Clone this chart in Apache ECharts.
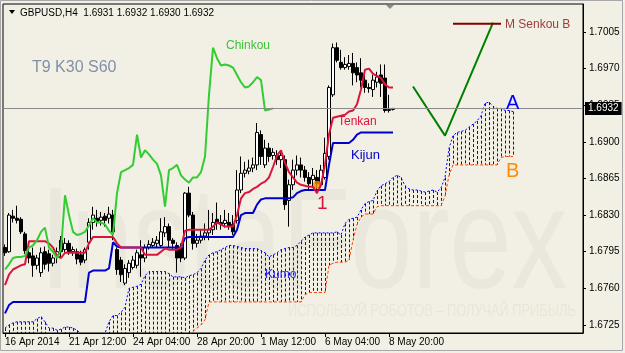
<!DOCTYPE html>
<html>
<head>
<meta charset="utf-8">
<script src="https://cdn.jsdelivr.net/npm/echarts@6/dist/echarts.min.js"></script>
<style>
  html, body { margin: 0; padding: 0; background: #f2f0e4; }
  #chart { width: 625px; height: 353px; }
</style>
</head>
<body>
<div id="chart"></div>
<script>
// bars are H4, one category per bar (the last 30+ are the future the cloud is shifted into)
const barCount = 145;
const categories = Array.from({ length: barCount }, (_, i) => String(i));
const tickLabels = ["16 Apr 2014", "21 Apr 12:00", "24 Apr 04:00", "28 Apr 20:00",
  "1 May 12:00", "6 May 04:00", "8 May 20:00"];
const priceTicks = [1.6725, 1.6760, 1.6795, 1.6830, 1.6865, 1.6900, 1.6935, 1.6970, 1.7005];

// open, close, low, high
const candles = [
  [1.6799, 1.6794, 1.6791, 1.6802], [1.6795, 1.6830, 1.6794, 1.6832], [1.6829, 1.6827, 1.6823, 1.6835],
  [1.6827, 1.6825, 1.6822, 1.6839], [1.6826, 1.6814, 1.6812, 1.6828], [1.6812, 1.6796, 1.6793, 1.6814],
  [1.6794, 1.6789, 1.6784, 1.6797], [1.6791, 1.6782, 1.6771, 1.6799], [1.6782, 1.6789, 1.6778, 1.6792],
  [1.6775, 1.6794, 1.6771, 1.6799], [1.6795, 1.6783, 1.6778, 1.6800], [1.6793, 1.6784, 1.6776, 1.6797],
  [1.6784, 1.6789, 1.6781, 1.6792], [1.6792, 1.6795, 1.6784, 1.6799], [1.6806, 1.6795, 1.6789, 1.6810],
  [1.6797, 1.6803, 1.6794, 1.6808], [1.6803, 1.6795, 1.6792, 1.6806], [1.6795, 1.6797, 1.6791, 1.6800],
  [1.6795, 1.6788, 1.6783, 1.6798], [1.6792, 1.6785, 1.6782, 1.6796], [1.6787, 1.6797, 1.6784, 1.6799],
  [1.6804, 1.6823, 1.6797, 1.6827], [1.6823, 1.6830, 1.6816, 1.6838], [1.6827, 1.6824, 1.6819, 1.6835],
  [1.6825, 1.6828, 1.6820, 1.6833], [1.6829, 1.6825, 1.6819, 1.6832], [1.6827, 1.6831, 1.6822, 1.6838],
  [1.6830, 1.6814, 1.6806, 1.6835], [1.6797, 1.6778, 1.6773, 1.6799], [1.6787, 1.6773, 1.6766, 1.6790],
  [1.6765, 1.6779, 1.6763, 1.6783], [1.6775, 1.6784, 1.6770, 1.6787], [1.6780, 1.6787, 1.6778, 1.6791],
  [1.6782, 1.6794, 1.6779, 1.6797], [1.6792, 1.6789, 1.6771, 1.6806], [1.6789, 1.6799, 1.6785, 1.6802],
  [1.6799, 1.6802, 1.6797, 1.6806], [1.6801, 1.6804, 1.6799, 1.6808], [1.6803, 1.6806, 1.6799, 1.6810],
  [1.6801, 1.6814, 1.6799, 1.6827], [1.6813, 1.6819, 1.6809, 1.6828], [1.6819, 1.6806, 1.6799, 1.6822],
  [1.6806, 1.6803, 1.6797, 1.6808], [1.6801, 1.6789, 1.6775, 1.6804], [1.6799, 1.6789, 1.6785, 1.6803],
  [1.6789, 1.6851, 1.6787, 1.6852], [1.6851, 1.6830, 1.6828, 1.6857], [1.6830, 1.6803, 1.6797, 1.6833],
  [1.6803, 1.6806, 1.6799, 1.6812], [1.6806, 1.6810, 1.6803, 1.6816], [1.6810, 1.6813, 1.6806, 1.6822],
  [1.6813, 1.6816, 1.6806, 1.6835], [1.6816, 1.6823, 1.6811, 1.6832], [1.6826, 1.6822, 1.6816, 1.6842],
  [1.6823, 1.6821, 1.6816, 1.6830], [1.6822, 1.6825, 1.6818, 1.6835], [1.6823, 1.6820, 1.6816, 1.6832],
  [1.6821, 1.6814, 1.6811, 1.6830], [1.6825, 1.6854, 1.6822, 1.6873], [1.6854, 1.6870, 1.6851, 1.6886],
  [1.6870, 1.6873, 1.6866, 1.6881], [1.6872, 1.6875, 1.6869, 1.6883], [1.6875, 1.6878, 1.6871, 1.6885],
  [1.6878, 1.6909, 1.6873, 1.6918], [1.6907, 1.6886, 1.6878, 1.6911], [1.6878, 1.6894, 1.6875, 1.6902],
  [1.6894, 1.6886, 1.6881, 1.6899], [1.6887, 1.6890, 1.6883, 1.6894], [1.6887, 1.6883, 1.6878, 1.6892],
  [1.6883, 1.6887, 1.6875, 1.6892], [1.6883, 1.6840, 1.6835, 1.6887], [1.6844, 1.6859, 1.6819, 1.6864],
  [1.6859, 1.6873, 1.6854, 1.6883], [1.6873, 1.6878, 1.6868, 1.6887], [1.6878, 1.6873, 1.6866, 1.6885],
  [1.6873, 1.6866, 1.6862, 1.6877], [1.6866, 1.6860, 1.6854, 1.6871], [1.6864, 1.6868, 1.6856, 1.6875],
  [1.6866, 1.6860, 1.6854, 1.6873], [1.6859, 1.6873, 1.6856, 1.6878], [1.6866, 1.6889, 1.6864, 1.6904],
  [1.6886, 1.6952, 1.6883, 1.6954], [1.6945, 1.6990, 1.6943, 1.6994], [1.6990, 1.6978, 1.6976, 1.6995],
  [1.6976, 1.6971, 1.6969, 1.6988], [1.6971, 1.6974, 1.6969, 1.6981], [1.6972, 1.6975, 1.6969, 1.6983],
  [1.6975, 1.6966, 1.6954, 1.6985], [1.6971, 1.6964, 1.6957, 1.6976], [1.6966, 1.6959, 1.6952, 1.6980],
  [1.6959, 1.6952, 1.6947, 1.6967], [1.6952, 1.6951, 1.6947, 1.6956], [1.6950, 1.6959, 1.6943, 1.6964],
  [1.6957, 1.6962, 1.6952, 1.6967], [1.6964, 1.6956, 1.6943, 1.6974], [1.6961, 1.6930, 1.6928, 1.6974],
  [1.6930, 1.6931, 1.6928, 1.6945], [1.6931, 1.6932, 1.6930, 1.6932]
];

const tenkan = [
  1.6763, 1.6773, 1.6778, 1.6780, 1.6782, 1.6783, 1.6805, 1.6805, 1.6805, 1.6805,
  1.6805, 1.6803, 1.6799, 1.6791, 1.6789, 1.6794, 1.6794, 1.6794, 1.6794, 1.6794,
  1.6794, 1.6803, 1.6809, 1.6809, 1.6809, 1.6809, 1.6809, 1.6809, 1.6803, 1.6799,
  1.6799, 1.6799, 1.6799, 1.6799, 1.6799, 1.6792, 1.6792, 1.6792, 1.6792, 1.6795,
  1.6798, 1.6797, 1.6797, 1.6797, 1.6799, 1.6815, 1.6816, 1.6816, 1.6816, 1.6816,
  1.6816, 1.6816, 1.6819, 1.6823, 1.6821, 1.6819, 1.6819, 1.6819, 1.6830, 1.6846,
  1.6851, 1.6852, 1.6855, 1.6857, 1.6860, 1.6862, 1.6866, 1.6876, 1.6887, 1.6892,
  1.6880, 1.6871, 1.6866, 1.6861, 1.6859, 1.6858, 1.6857, 1.6857, 1.6851, 1.6859,
  1.6878, 1.6907, 1.6923, 1.6924, 1.6925, 1.6926, 1.6929, 1.6930, 1.6936, 1.6950,
  1.6969, 1.6970, 1.6965, 1.6963, 1.6961, 1.6955, 1.6952, 1.6952
];

const kijun = [
  1.6736, 1.6744, 1.6747, 1.6747, 1.6747, 1.6747, 1.6747, 1.6747, 1.6747, 1.6747,
  1.6747, 1.6747, 1.6747, 1.6747, 1.6747, 1.6747, 1.6747, 1.6747, 1.6747, 1.6747,
  1.6747, 1.6775, 1.6777, 1.6777, 1.6777, 1.6777, 1.6779, 1.6804, 1.6800, 1.6799,
  1.6799, 1.6799, 1.6799, 1.6799, 1.6799, 1.6799, 1.6799, 1.6799, 1.6799, 1.6799,
  1.6799, 1.6799, 1.6799, 1.6799, 1.6799, 1.6808, 1.6809, 1.6809, 1.6809, 1.6809,
  1.6809, 1.6809, 1.6809, 1.6809, 1.6809, 1.6809, 1.6809, 1.6809, 1.6816, 1.6830,
  1.6832, 1.6832, 1.6832, 1.6840, 1.6845, 1.6846, 1.6846, 1.6846, 1.6846, 1.6846,
  1.6846, 1.6846, 1.6847, 1.6851, 1.6853, 1.6854, 1.6854, 1.6854, 1.6854, 1.6854,
  1.6854, 1.6878, 1.6899, 1.6899, 1.6899, 1.6899, 1.6899, 1.6902, 1.6907, 1.6909,
  1.6909, 1.6909, 1.6909, 1.6909, 1.6909, 1.6909, 1.6909, 1.6909
];

const chinkou = [
  1.6778, 1.6783, 1.6789, 1.6790, 1.6790, 1.6791, 1.6799, 1.6801, 1.6806, 1.6814,
  1.6818, 1.6799, 1.6795, 1.6789, 1.6797, 1.6849, 1.6830, 1.6814, 1.6811, 1.6812,
  1.6814, 1.6820, 1.6827, 1.6823, 1.6823, 1.6821, 1.6815, 1.6811, 1.6851, 1.6871,
  1.6873, 1.6875, 1.6878, 1.6907, 1.6885, 1.6892, 1.6888, 1.6883, 1.6879, 1.6868,
  1.6838, 1.6873, 1.6875, 1.6878, 1.6868, 1.6864, 1.6861, 1.6866, 1.6866, 1.6871,
  1.6886, 1.6945, 1.6990, 1.6980, 1.6973, 1.6974, 1.6973, 1.6971, 1.6964, 1.6957,
  1.6952, 1.6953, 1.6957, 1.6962, 1.6959, 1.6930, 1.6931, 1.6932
];

const senkouA = [
  1.6722, 1.6725, 1.6727, 1.6728, 1.6728, 1.6728, 1.6728, 1.6728, 1.6731, 1.6733,
  1.6728, 1.6722, 1.6722, 1.6720, 1.6721, 1.6723, 1.6723, 1.6722, 1.6720, 1.6716,
  1.6714, 1.6714, 1.6714, 1.6714, 1.6714, 1.6717, 1.6728, 1.6734, 1.6734, 1.6737,
  1.6742, 1.6760, 1.6761, 1.6762, 1.6764, 1.6772, 1.6776, 1.6776, 1.6776, 1.6776,
  1.6776, 1.6774, 1.6771, 1.6771, 1.6771, 1.6770, 1.6772, 1.6773, 1.6775, 1.6779,
  1.6787, 1.6792, 1.6794, 1.6795, 1.6797, 1.6799, 1.6801, 1.6801, 1.6800, 1.6799,
  1.6798, 1.6798, 1.6798, 1.6798, 1.6796, 1.6794, 1.6790, 1.6792, 1.6794, 1.6797,
  1.6798, 1.6799, 1.6799, 1.6801, 1.6805, 1.6809, 1.6811, 1.6813, 1.6813, 1.6813,
  1.6813, 1.6813, 1.6813, 1.6814, 1.6811, 1.6822, 1.6826, 1.6827, 1.6828, 1.6835,
  1.6841, 1.6843, 1.6844, 1.6853, 1.6858, 1.6860, 1.6862, 1.6866, 1.6868, 1.6866,
  1.6858, 1.6855, 1.6854, 1.6854, 1.6853, 1.6852, 1.6853, 1.6854, 1.6852, 1.6856,
  1.6866, 1.6894, 1.6906, 1.6909, 1.6910, 1.6911, 1.6914, 1.6917, 1.6920, 1.6925,
  1.6937, 1.6938, 1.6934, 1.6932, 1.6932, 1.6930, 1.6930, 1.6929
];

const senkouB = [
  1.6705, 1.6705, 1.6705, 1.6705, 1.6705, 1.6705, 1.6705, 1.6705, 1.6705, 1.6705,
  1.6705, 1.6705, 1.6705, 1.6705, 1.6705, 1.6705, 1.6705, 1.6705, 1.6705, 1.6705,
  1.6705, 1.6705, 1.6705, 1.6705, 1.6705, 1.6705, 1.6705, 1.6705, 1.6705, 1.6705,
  1.6705, 1.6705, 1.6705, 1.6705, 1.6705, 1.6705, 1.6705, 1.6705, 1.6705, 1.6705,
  1.6705, 1.6705, 1.6705, 1.6705, 1.6705, 1.6708, 1.6715, 1.6719, 1.6722, 1.6725,
  1.6730, 1.6747, 1.6747, 1.6747, 1.6747, 1.6747, 1.6747, 1.6747, 1.6747, 1.6747,
  1.6747, 1.6747, 1.6747, 1.6747, 1.6747, 1.6747, 1.6747, 1.6747, 1.6747, 1.6747,
  1.6747, 1.6747, 1.6747, 1.6747, 1.6747, 1.6754, 1.6756, 1.6756, 1.6756, 1.6756,
  1.6756, 1.6782, 1.6784, 1.6785, 1.6785, 1.6785, 1.6787, 1.6806, 1.6821, 1.6828,
  1.6831, 1.6831, 1.6831, 1.6838, 1.6839, 1.6839, 1.6839, 1.6839, 1.6839, 1.6839,
  1.6839, 1.6839, 1.6839, 1.6839, 1.6839, 1.6839, 1.6839, 1.6839, 1.6839, 1.6839,
  1.6848, 1.6868, 1.6878, 1.6878, 1.6878, 1.6878, 1.6878, 1.6878, 1.6878, 1.6878,
  1.6878, 1.6878, 1.6878, 1.6878, 1.6885, 1.6886, 1.6886, 1.6886
];

// hand-drawn objects on the chart, as [bar, price]
const forecastPath = [[102, 1.6953], [110, 1.6906], [122, 1.7014]];
const senkouBTarget = [[112, 1.7013], [124, 1.7013]];
const crossPoint = [[78, 1.6859]];

const lastClose = candles[candles.length - 1][1];
const FONT = '"Liberation Sans", Arial, sans-serif';

const chart = echarts.init(document.getElementById('chart'));

const cloud = senkouA.map((a, i) => [i, a, senkouB[i]]);

const option = {
  animation: false,
  backgroundColor: '#f2f0e4',
  grid: {
    left: 3, right: 42, top: 4, bottom: 20,
    show: true, borderColor: '#000', borderWidth: 1, backgroundColor: 'transparent'
  },
  xAxis: {
    type: 'category',
    data: categories,
    axisLine: { show: true, lineStyle: { color: '#000' } },
    axisTick: {
      show: true, alignWithLabel: true, length: 4,
      interval: (i) => i % 16 === 0 && i / 16 < tickLabels.length,
      lineStyle: { color: '#000' }
    },
    axisLabel: {
      interval: (i) => i % 16 === 0 && i / 16 < tickLabels.length,
      formatter: (v, i) => tickLabels[i / 16] || '',
      align: 'left', margin: 4, color: '#000', fontSize: 10, fontFamily: FONT
    },
    splitLine: { show: false }
  },
  yAxis: {
    type: 'value',
    position: 'right',
    scale: true,
    min: 1.67173,
    max: 1.70318,
    axisLine: { show: true, lineStyle: { color: '#000' } },
    axisTick: { show: true, length: 3, customValues: priceTicks, lineStyle: { color: '#000' } },
    axisLabel: {
      customValues: priceTicks, formatter: (v) => v.toFixed(4),
      margin: 6, color: '#000', fontSize: 10, fontFamily: FONT
    },
    splitLine: { show: false }
  },
  series: [
    {
      name: 'Kumo',
      type: 'custom',
      clip: true,
      data: cloud,
      encode: { x: 0, y: [1, 2] },
      renderItem: function (params, api) {
        const top = api.coord([api.value(0), api.value(1)]);
        const bot = api.coord([api.value(0), api.value(2)]);
        const cs = params.coordSys;
        const x = Math.round(top[0]) + 0.5;
        return {
          type: 'line',
          shape: { x1: x, y1: Math.max(top[1], cs.y), x2: x, y2: Math.min(bot[1], cs.y + cs.height) },
          style: { stroke: '#0000ff', lineWidth: 1, lineDash: [3, 2] }
        };
      }
    },
    {
      name: 'Senkou A', type: 'line', data: senkouA, symbol: 'none',
      lineStyle: { color: '#0000ff', width: 1, type: [2, 2] }
    },
    {
      name: 'Senkou B', type: 'line', data: senkouB, symbol: 'none',
      lineStyle: { color: '#ff4500', width: 1, type: [3, 2] }
    },
    {
      name: 'GBPUSD', type: 'candlestick', data: candles, barWidth: 3,
      itemStyle: { color: '#ffffff', color0: '#000000', borderColor: '#000000', borderColor0: '#000000', borderWidth: 1 }
    },
    {
      name: 'Kijun', type: 'line', data: kijun, symbol: 'none',
      lineStyle: { color: '#0000cd', width: 2 },
      markLine: {
        silent: true, symbol: 'none', animation: false, precision: 4,
        lineStyle: { color: '#8a8a8a', type: 'solid', width: 1 },
        label: {
          position: 'end', distance: 2, formatter: () => lastClose.toFixed(4),
          backgroundColor: '#000', color: '#fff', padding: [2, 3, 1, 3],
          fontSize: 10, fontFamily: FONT
        },
        data: [{ yAxis: lastClose }]
      }
    },
    {
      name: 'Tenkan', type: 'line', data: tenkan, symbol: 'none',
      lineStyle: { color: '#dc143c', width: 2 }
    },
    {
      name: 'Chinkou', type: 'line', data: chinkou, symbol: 'none',
      lineStyle: { color: '#32cd32', width: 2 }
    },
    {
      name: 'forecast', type: 'line', data: forecastPath, symbol: 'none',
      lineStyle: { color: '#008000', width: 2 }
    },
    {
      name: 'M Senkou B', type: 'line', data: senkouBTarget, symbol: 'none',
      lineStyle: { color: '#800000', width: 2 }
    },
    {
      name: 'cross', type: 'scatter', data: crossPoint, symbol: 'circle', symbolSize: 8,
      itemStyle: { color: '#ff8c00' }
    }
  ],
  graphic: [
    { type: 'text', x: 40, y: 248, z: 1, silent: true, scaleX: 0.77,
      style: { text: 'InstaForex', fill: '#eae8dd', fontSize: 145, fontFamily: FONT, verticalAlign: 'middle' } },
    { type: 'text', x: 288, y: 312, z: 1, silent: true, scaleX: 0.8,
      style: { text: 'ИСПОЛЬЗУЙ РОБОТОВ – ПОЛУЧАЙ ПРИБЫЛЬ', fill: '#e8e6da', fontSize: 16, fontFamily: FONT, verticalAlign: 'middle' } },
    { type: 'polygon', z: 100, shape: { points: [[9, 10], [15, 10], [12, 14]] }, style: { fill: '#000' } },
    { type: 'text', x: 20, y: 13, z: 100,
      style: { text: 'GBPUSD,H4  1.6931 1.6932 1.6930 1.6932', fill: '#000', fontSize: 10, fontFamily: FONT, verticalAlign: 'middle' } },
    { type: 'polygon', z: 100, shape: { points: [[386, 5], [394, 5], [390, 9]] }, style: { fill: '#8a8a8a' } },
    { type: 'text', x: 32, y: 68, z: 100,
      style: { text: 'T9 K30 S60', fill: '#8090a8', fontSize: 16, fontFamily: FONT, verticalAlign: 'middle' } },
    { type: 'text', x: 226, y: 46, z: 100,
      style: { text: 'Chinkou', fill: '#3fc03f', fontSize: 12, fontFamily: FONT, verticalAlign: 'middle' } },
    { type: 'text', x: 338, y: 122, z: 100,
      style: { text: 'Tenkan', fill: '#dc143c', fontSize: 12, fontFamily: FONT, verticalAlign: 'middle' } },
    { type: 'text', x: 351, y: 155, z: 100,
      style: { text: 'Kijun', fill: '#0000cd', fontSize: 13, fontFamily: FONT, verticalAlign: 'middle' } },
    { type: 'text', x: 265, y: 275, z: 100,
      style: { text: 'Kumo', fill: '#2a2ae6', fontSize: 12, fontFamily: FONT, verticalAlign: 'middle' } },
    { type: 'text', x: 317, y: 204, z: 100,
      style: { text: '1', fill: '#dc143c', fontSize: 19, fontFamily: FONT, verticalAlign: 'middle' } },
    { type: 'text', x: 506, y: 103, z: 100,
      style: { text: 'A', fill: '#0000ff', fontSize: 20, fontFamily: FONT, verticalAlign: 'middle' } },
    { type: 'text', x: 506, y: 171, z: 100,
      style: { text: 'B', fill: '#ff8c00', fontSize: 20, fontFamily: FONT, verticalAlign: 'middle' } },
    { type: 'text', x: 505, y: 25, z: 100,
      style: { text: 'M Senkou B', fill: '#9c3c3c', fontSize: 12, fontFamily: FONT, verticalAlign: 'middle' } },
    { type: 'rect', z: 100, silent: true, shape: { x: 0.5, y: 0.5, width: 622, height: 350 },
      style: { fill: 'none', stroke: '#a8a8a8', lineWidth: 1 } }
  ]
};

chart.setOption(option);
</script>
</body>
</html>
